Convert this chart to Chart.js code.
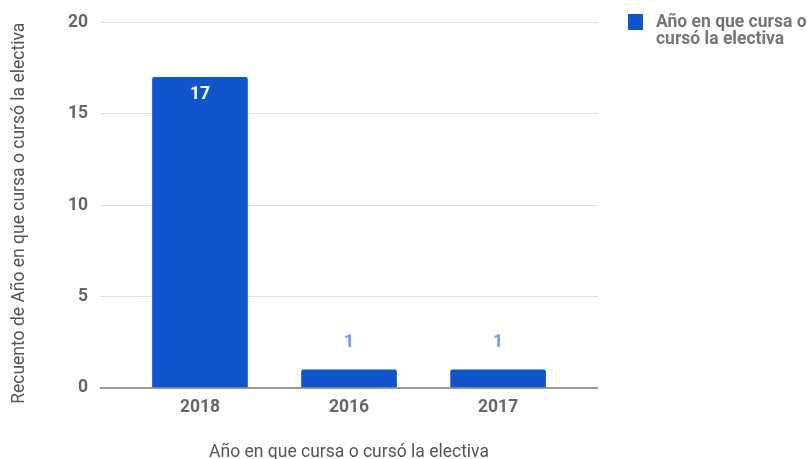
<!DOCTYPE html>
<html><head><meta charset="utf-8">
<script src="https://cdn.jsdelivr.net/npm/chart.js@4/dist/chart.umd.min.js"></script>
<style>html,body{margin:0;padding:0;background:#fff}#wrap{width:807px;height:459px}</style>
</head><body><div id="wrap"><canvas id="c" width="807" height="459"></canvas></div>
<script>
const categories = ["2018", "2016", "2017"];
const counts = [17, 1, 1];
const seriesLabel = "Año en que cursa o cursó la electiva";
const yTicks = [0, 5, 10, 15, 20];
const xTitle = "Año en que cursa o cursó la electiva";
const yTitle = "Recuento de Año en que cursa o cursó la electiva";

const BLUE = '#1155cc';
const FS = 17.5;
const labelPlugin = {
  id: 'vals',
  afterDatasetsDraw(chart) {
    const ctx = chart.ctx;
    const meta = chart.getDatasetMeta(0);
    ctx.save();
    ctx.textAlign = 'center';
    ctx.textBaseline = 'middle';
    ctx.font = 'bold ' + FS + 'px Roboto';
    meta.data.forEach((bar, i) => {
      const v = counts[i];
      const h = bar.base - bar.y;
      if (h > 30) { ctx.fillStyle = '#ffffff'; ctx.fillText(String(v), bar.x, bar.y + 17); }
      else { ctx.fillStyle = '#6d9eeb'; ctx.fillText(String(v), bar.x, bar.y - 27); }
    });
    ctx.restore();
  }
};
const yTitlePlugin = {
  id: 'ytitle',
  afterDraw(chart) {
    const ctx = chart.ctx;
    const ca = chart.chartArea;
    ctx.save();
    ctx.translate(20, (ca.top + ca.bottom) / 2 + 8);
    ctx.rotate(-Math.PI / 2);
    ctx.fillStyle = '#555555';
    ctx.font = FS + 'px Roboto';
    ctx.textAlign = 'center';
    ctx.textBaseline = 'middle';
    ctx.fillText(yTitle, 0, 0);
    ctx.restore();
  }
};
const legendPlugin = {
  id: 'leg',
  afterDraw(chart) {
    const ctx = chart.ctx;
    ctx.save();
    ctx.fillStyle = BLUE;
    ctx.fillRect(628, 14, 15, 16);
    ctx.fillStyle = '#757575';
    ctx.font = 'bold ' + FS + 'px Roboto';
    ctx.textBaseline = 'middle';
    ctx.textAlign = 'left';
    const words = chart.data.datasets[0].label.split(' ');
    ctx.fillText(words.slice(0, 5).join(' '), 656, 23);
    ctx.fillText(words.slice(5).join(' '), 656, 40);
    ctx.restore();
  }
};

new Chart(document.getElementById('c'), {
  type: 'bar',
  data: {
    datasets: [{
      label: seriesLabel,
      data: counts.map((v, i) => ({ x: i, y: v })),
      backgroundColor: BLUE,
      borderRadius: 2,
      borderSkipped: 'bottom',
      barThickness: 95
    }]
  },
  options: {
    responsive: false,
    animation: false,
    layout: { padding: { left: 0, right: 209, top: 13, bottom: -2 } },
    plugins: { legend: { display: false }, tooltip: { enabled: false } },
    scales: {
      x: {
        type: 'linear',
        offset: false,
        min: -0.67, max: 2.67,
        afterBuildTicks: (s) => { s.ticks = categories.map((_, i) => ({ value: i })); },
        grid: { display: false, drawTicks: false },
        border: { display: false },
        ticks: { callback: (v) => categories[v] ?? '', color: '#666666', font: { family: 'Roboto', size: FS, weight: 'bold' }, padding: 9.5, maxRotation: 0 },
        title: { display: true, text: xTitle, color: '#555555', font: { family: 'Roboto', size: FS, lineHeight: 1 }, padding: { top: 15.5, bottom: 0 } }
      },
      y: {
        min: 0, max: 20,
        afterBuildTicks: (s) => { s.ticks = yTicks.map(v => ({ value: v })); },
        grid: {
          color: (c) => c.tick && c.tick.value === 0 ? '#999999' : '#e0e0e0',
          lineWidth: (c) => c.tick && c.tick.value === 0 ? 2 : 1,
          drawTicks: false
        },
        border: { display: false },
        ticks: { color: '#666666', font: { family: 'Roboto', size: FS, weight: 'bold' }, padding: 12 },
        title: { display: true, text: yTitle, color: 'rgba(0,0,0,0)', font: { family: 'Roboto', size: FS, lineHeight: 1.2 }, padding: { top: 11, bottom: 24 } }
      }
    }
  },
  plugins: [labelPlugin, legendPlugin, yTitlePlugin]
});
</script></body></html>
